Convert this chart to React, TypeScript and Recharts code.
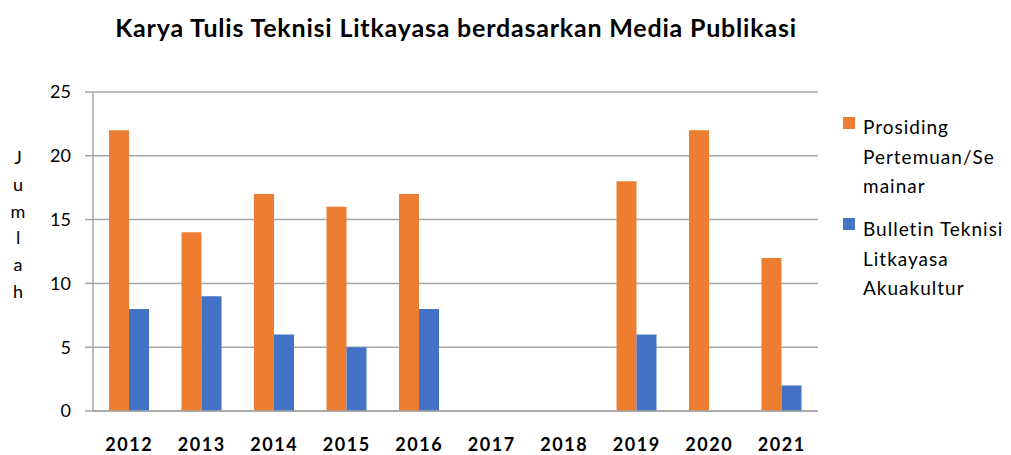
import React from "react";
import { BarChart, Bar, XAxis, YAxis, CartesianGrid } from "recharts";

const years = ["2012", "2013", "2014", "2015", "2016", "2017", "2018", "2019", "2020", "2021"];
const prosiding = [22, 14, 17, 16, 17, 0, 0, 18, 22, 12];
const bulletin = [8, 9, 6, 5, 8, 0, 0, 6, 0, 2];
const yTicks = [0, 5, 10, 15, 20, 25];
const seriesNames = ["Prosiding Pertemuan/Seminar", "Bulletin Teknisi Litkayasa Akuakultur"];
const legendLines = [
  ["Prosiding", "Pertemuan/Se", "mainar"],
  ["Bulletin Teknisi", "Litkayasa", "Akuakultur"],
];
const yLabel = "Jumlah";
const title = "Karya Tulis Teknisi Litkayasa berdasarkan Media Publikasi";

const data = years.map((y, i) => ({ year: y, p: prosiding[i], b: bulletin[i] }));

const FONT = "Lato, 'Open Sans', sans-serif";
const ORANGE = "#ED7D31";
const BLUE = "#4472C4";
const GRID = "#A6A6A6";

const YLabelContent = () => (
  <text fontFamily={FONT} fontSize={18} fill="#000" textAnchor="middle">
    {yLabel.split("").map((ch, i) => (
      <tspan key={i} x={18} y={164 + i * 26.8}>
        {ch}
      </tspan>
    ))}
  </text>
);

const LegendBlock = () => {
  const colors = [ORANGE, BLUE];
  const squareTops = [117, 218];
  const textTops = [112, 214];
  return (
    <div style={{ position: "absolute", left: 0, top: 0, fontFamily: FONT, fontSize: 19 }}>
      {legendLines.map((lines, si) => (
        <div key={si} title={seriesNames[si]}>
          <div
            style={{
              position: "absolute",
              left: 843,
              top: squareTops[si],
              width: 12,
              height: 12,
              background: colors[si],
            }}
          />
          {lines.map((ln, li) => (
            <div
              key={li}
              style={{
                position: "absolute",
                left: 863,
                top: textTops[si] + li * 29.5,
                whiteSpace: "nowrap",
                color: "#000",
                letterSpacing: 1,
                lineHeight: "30px",
              }}
            >
              {ln}
            </div>
          ))}
        </div>
      ))}
    </div>
  );
};

export default function App() {
  return (
    <div style={{ position: "absolute", left: 0, top: 0, width: 1011, height: 455, background: "#fff" }}>
      <div
        style={{
          position: "absolute",
          left: 0,
          top: 12,
          width: 912,
          textAlign: "center",
          fontFamily: FONT,
          fontWeight: 700,
          fontSize: 25,
          letterSpacing: 0.8,
          lineHeight: "30px",
          color: "#000",
        }}
      >
        {title}
      </div>
      <BarChart
        width={1011}
        height={455}
        data={data}
        margin={{ top: 92, right: 193, bottom: 14, left: 0 }}
        barGap={0}
        barCategoryGap="22%"
      >
        <CartesianGrid vertical={false} stroke={GRID} strokeWidth={1.5} />
        <XAxis
          dataKey="year"
          height={30}
          axisLine={{ stroke: GRID, strokeWidth: 1.5 }}
          tickLine={false}
          tick={{ fontFamily: FONT, fontSize: 18, fontWeight: 700, fill: "#000", letterSpacing: 1.5 }}
          tickMargin={21}
          interval={0}
        />
        <YAxis
          width={93}
          domain={[0, 25]}
          ticks={yTicks}
          axisLine={{ stroke: GRID, strokeWidth: 1.5 }}
          tickLine={{ stroke: GRID, strokeWidth: 1.5 }}
          tickSize={8}
          tickMargin={14}
          tick={{ fontFamily: FONT, fontSize: 18, fill: "#000" }}
          label={<YLabelContent />}
        />
        <Bar dataKey="p" name={seriesNames[0]} fill={ORANGE} barSize={20} isAnimationActive={false} />
        <Bar dataKey="b" name={seriesNames[1]} fill={BLUE} barSize={20} isAnimationActive={false} />
      </BarChart>
      <LegendBlock />
    </div>
  );
}
